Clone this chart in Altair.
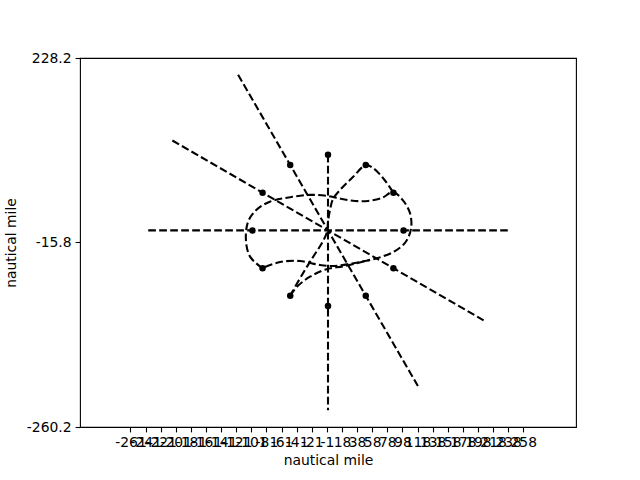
import altair as alt
import pandas as pd

# ---- data (nautical miles) ----
# marker positions
marker_x = [100, 86.6, 50, 0, -50, -86.6, -100, -86.6, -50, 0, 50, 86.6]
marker_y = [0, 50, 86.6, 100, 86.6, 50, 0, -50, -86.6, -100, -86.6, -50]

# straight dashed tracks
h_x = [-238, 238]
h_y = [0, 0]
v_x = [0, 0]
v_y = [100, -238]
c_x = [-119, 119]
c_y = [206, -206]
d_x = [-206, 206]
d_y = [119, -119]

# curved dashed tracks
lens_x = [-87, -103, -108.5, -106, -95, -77, -50, -24, 0, 18.5, 35.7, 53, 71.5, 86,
          99, 108.5, 110, 103, 88.7, 66, 35.7, 9, -10.6, -37, -63.5, -87]
lens_y = [-50, -35, -15, 11, 27, 38, 44, 47, 45.5, 41.6, 39, 39, 43, 50.8,
          40, 23, 3, -15, -27.3, -36.5, -43, -47, -45.8, -40.5, -41.8, -50]
tail_x = [-50.3, -39.7, -23.8, -4, 22.5, 55.6]
tail_y = [-86.6, -73.3, -61.3, -52, -47, -39]
s_x = [86, 72.8, 59.6, 50.3, 33, 15.9, 6.6, 2.6, 0, -1.3, -8, -19.9, -33, -50.3]
s_y = [50.8, 69.4, 82.6, 86.6, 70.7, 53.5, 41.6, 27, 11, -2.1, -16.7, -35.3, -56.5, -86.6]

# axis ticks
x_ticks = [-261.5 + 20 * i for i in range(27)]
y_ticks = [-260.2, -15.8, 228.2]


def frame(name, xs, ys):
    return pd.DataFrame({"series": name, "order": range(len(xs)), "x": xs, "y": ys})


straight_df = pd.concat([frame("H", h_x, h_y), frame("V", v_x, v_y),
                         frame("C", c_x, c_y), frame("D", d_x, d_y)])
curve_df = pd.concat([frame("lens", lens_x, lens_y), frame("tail", tail_x, tail_y),
                      frame("s", s_x, s_y)])
marker_df = pd.DataFrame({"x": marker_x, "y": marker_y})

FONT = "DejaVu Sans"
FS = 13.9

xscale = alt.Scale(domain=[-328.3, 328.3], nice=False, zero=False)
yscale = alt.Scale(domain=[-260.2, 228.2], nice=False, zero=False)

xaxis = alt.Axis(values=x_ticks, tickCount=60, title="nautical mile",
                 labelExpr="toString(datum.value < 0 ? ceil(datum.value) : floor(datum.value))",
                 labelOverlap=False, labelFlush=False, labelBound=False,
                 grid=False, domain=False, tickColor="black", tickWidth=1.1, tickSize=4.9,
                 labelPadding=4, labelFont=FONT, labelFontSize=FS, labelColor="black",
                 titleFont=FONT, titleFontSize=FS, titleFontWeight="normal",
                 titleColor="black", titlePadding=4)
yaxis = alt.Axis(values=y_ticks, tickCount=10, title="nautical mile",
                 labelExpr="replace(format(datum.value, '.1f'), '\u2212', '-')",
                 labelOverlap=False, labelFlush=False, labelBound=False,
                 grid=False, domain=False, tickColor="black", tickWidth=1.1, tickSize=4.9,
                 labelPadding=4, labelFont=FONT, labelFontSize=FS, labelColor="black",
                 titleFont=FONT, titleFontSize=FS, titleFontWeight="normal",
                 titleColor="black", titlePadding=8)

dash = [7.7, 3.3]

straight = alt.Chart(straight_df).mark_line(
    color="black", strokeDash=dash, strokeWidth=2.08, clip=True
).encode(
    x=alt.X("x:Q", scale=xscale, axis=xaxis),
    y=alt.Y("y:Q", scale=yscale, axis=yaxis),
    detail="series:N",
    order="order:Q",
)

curves = alt.Chart(curve_df).mark_line(
    color="black", strokeDash=dash, strokeWidth=2.08, interpolate="catmull-rom", clip=True
).encode(
    x=alt.X("x:Q", scale=xscale),
    y=alt.Y("y:Q", scale=yscale),
    detail="series:N",
    order="order:Q",
)

markers = alt.Chart(marker_df).mark_point(
    filled=True, color="black", size=42, opacity=1, shape="circle"
).encode(
    x=alt.X("x:Q", scale=xscale),
    y=alt.Y("y:Q", scale=yscale),
)

chart = alt.layer(straight, curves, markers).properties(
    width=496, height=369,
    autosize=alt.AutoSizeParams(type="none"),
    padding={"left": 80, "top": 58, "right": 64, "bottom": 53},
    background="white",
).configure_view(stroke="black", strokeWidth=1.1)

chart.save("out.html", embed_options={"renderer": "svg", "actions": False})
